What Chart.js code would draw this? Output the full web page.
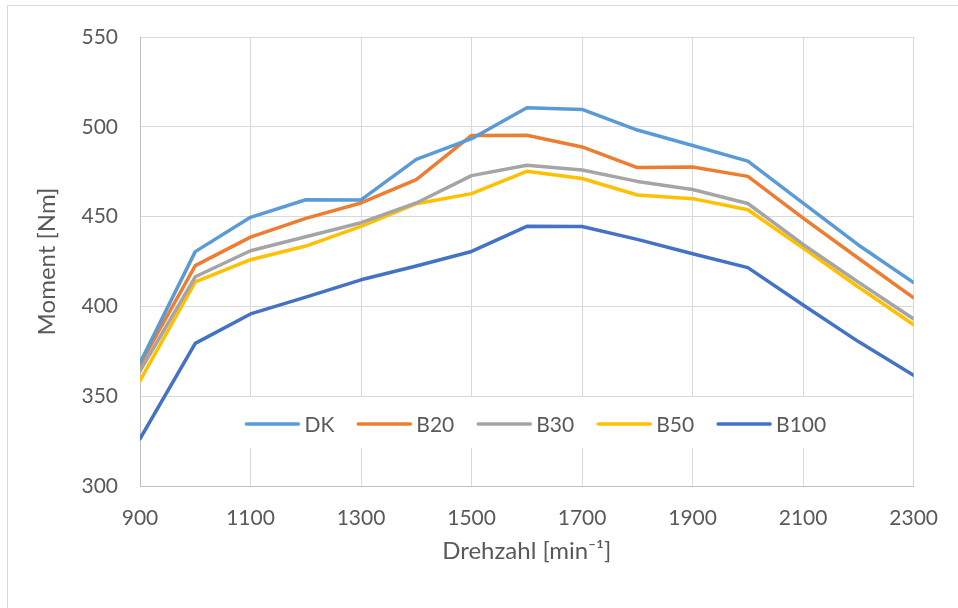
<!DOCTYPE html>
<html>
<head>
<meta charset="utf-8">
<script src="https://cdn.jsdelivr.net/npm/chart.js@4/dist/chart.umd.min.js"></script>
<style>
  html, body { margin: 0; padding: 0; background: #ffffff; }
  #wrap { width: 958px; height: 608px; position: relative; }
</style>
</head>
<body>
<div id="wrap"><canvas id="c" width="958" height="608"></canvas></div>
<script>
// ---- data ----
const speeds = [900, 1000, 1100, 1200, 1300, 1400, 1500, 1600, 1700, 1800, 1900, 2000, 2100, 2200, 2300];
const seriesNames = ["DK", "B20", "B30", "B50", "B100"];
const DK   = [368.5, 430.5, 449.6, 459.4, 459.3, 481.9, 493.4, 510.6, 509.7, 498.2, 489.6, 480.9, 457.5, 434.2, 413.3];
const B20  = [367.5, 422.7, 438.6, 449.0, 457.6, 470.6, 495.2, 495.3, 488.8, 477.3, 477.6, 472.4, 449.2, 426.8, 404.8];
const B30  = [364.0, 416.5, 431.0, 438.8, 446.6, 457.6, 472.8, 478.6, 475.9, 469.6, 465.1, 457.3, 434.5, 413.5, 393.0];
const B50  = [358.7, 413.7, 426.0, 433.6, 444.6, 457.2, 462.8, 475.2, 471.2, 462.0, 460.0, 453.8, 432.5, 410.8, 389.8];
const B100 = [326.3, 379.4, 395.8, 405.2, 414.8, 422.5, 430.6, 444.6, 444.5, 437.3, 429.3, 421.6, 400.8, 380.4, 361.6];
const xTitle = "Drehzahl [min\u207B\u00B9]";
const yTitle = "Moment [Nm]";

const colors = ["#5B9BD5", "#ED7D31", "#A5A5A5", "#FFC000", "#4472C4"];
const allSeries = [DK, B20, B30, B50, B100];
const FONT = "Lato, 'Open Sans', 'Liberation Sans', sans-serif";
const TXT = "#595959";

const datasets = allSeries.map((vals, i) => ({
  label: seriesNames[i],
  data: speeds.map((s, j) => ({ x: s, y: vals[j] })),
  borderColor: colors[i],
  backgroundColor: colors[i],
  borderWidth: 3.5,
  pointRadius: 0,
  tension: 0,
  fill: false,
  borderCapStyle: 'round',
  borderJoinStyle: 'round'
}));

const frame = {
  id: 'frame',
  beforeDraw(chart) {
    const ctx = chart.ctx;
    ctx.save();
    ctx.fillStyle = '#ffffff';
    ctx.fillRect(0, 0, chart.width, chart.height);
    ctx.strokeStyle = '#d9d9d9';
    ctx.lineWidth = 1;
    ctx.strokeRect(7.5, 5.5, 1200, 1200);
    ctx.restore();
  }
};

const inLegend = {
  id: 'inLegend',
  beforeDatasetsDraw(chart) {
    const ctx = chart.ctx;
    const area = chart.chartArea;
    ctx.save();
    ctx.font = "21px " + FONT;
    const sample = 54, gapText = 5, gapItem = 23;
    let total = 0;
    const widths = chart.data.datasets.map(d => ctx.measureText(d.label).width);
    widths.forEach((w, i) => { total += sample + gapText + w + (i < widths.length - 1 ? gapItem : 0); });
    const cx = (area.left + area.right) / 2 + 9;
    let x = cx - total / 2;
    const yc = 424;
    ctx.fillStyle = '#ffffff';
    ctx.fillRect(x - 12, 397, total + 24, 51);
    ctx.textBaseline = 'middle';
    ctx.textAlign = 'left';
    chart.data.datasets.forEach((d, i) => {
      ctx.strokeStyle = d.borderColor;
      ctx.lineWidth = 3.5;
      ctx.lineCap = 'round';
      ctx.beginPath();
      ctx.moveTo(x + 1, yc);
      ctx.lineTo(x + sample - 1, yc);
      ctx.stroke();
      ctx.fillStyle = TXT;
      ctx.fillText(d.label, x + sample + gapText, yc + 1);
      x += sample + gapText + widths[i] + gapItem;
    });
    ctx.restore();
  }
};

new Chart(document.getElementById('c'), {
  type: 'line',
  data: { datasets },
  plugins: [frame, inLegend],
  options: {
    responsive: false,
    animation: false,
    devicePixelRatio: 1,
    layout: { padding: { left: 0, top: 37, right: 42, bottom: 0 } },
    plugins: { legend: { display: false }, tooltip: { enabled: false } },
    scales: {
      x: {
        type: 'linear',
        min: 900, max: 2300,
        afterFit(s) { s.height = 122; },
        ticks: { stepSize: 200, color: TXT, font: { family: FONT, size: 21 }, padding: 20, maxRotation: 0,
                 callback: v => String(v) },
        grid: { color: '#d9d9d9', lineWidth: 1, drawTicks: false },
        border: { color: '#bfbfbf', width: 1 },
        title: { display: true, text: xTitle, color: TXT, font: { family: FONT, size: 24 }, padding: { top: 0, bottom: 42 } }
      },
      y: {
        min: 300, max: 550,
        afterFit(s) { s.width = 140; },
        ticks: { stepSize: 50, color: TXT, font: { family: FONT, size: 21 }, padding: 22 },
        grid: { color: '#d9d9d9', lineWidth: 1, drawTicks: false },
        border: { color: '#bfbfbf', width: 1 },
        title: { display: true, text: yTitle, color: TXT, font: { family: FONT, size: 24 }, padding: { top: 33, bottom: 0 } }
      }
    }
  }
});
</script>
</body>
</html>
